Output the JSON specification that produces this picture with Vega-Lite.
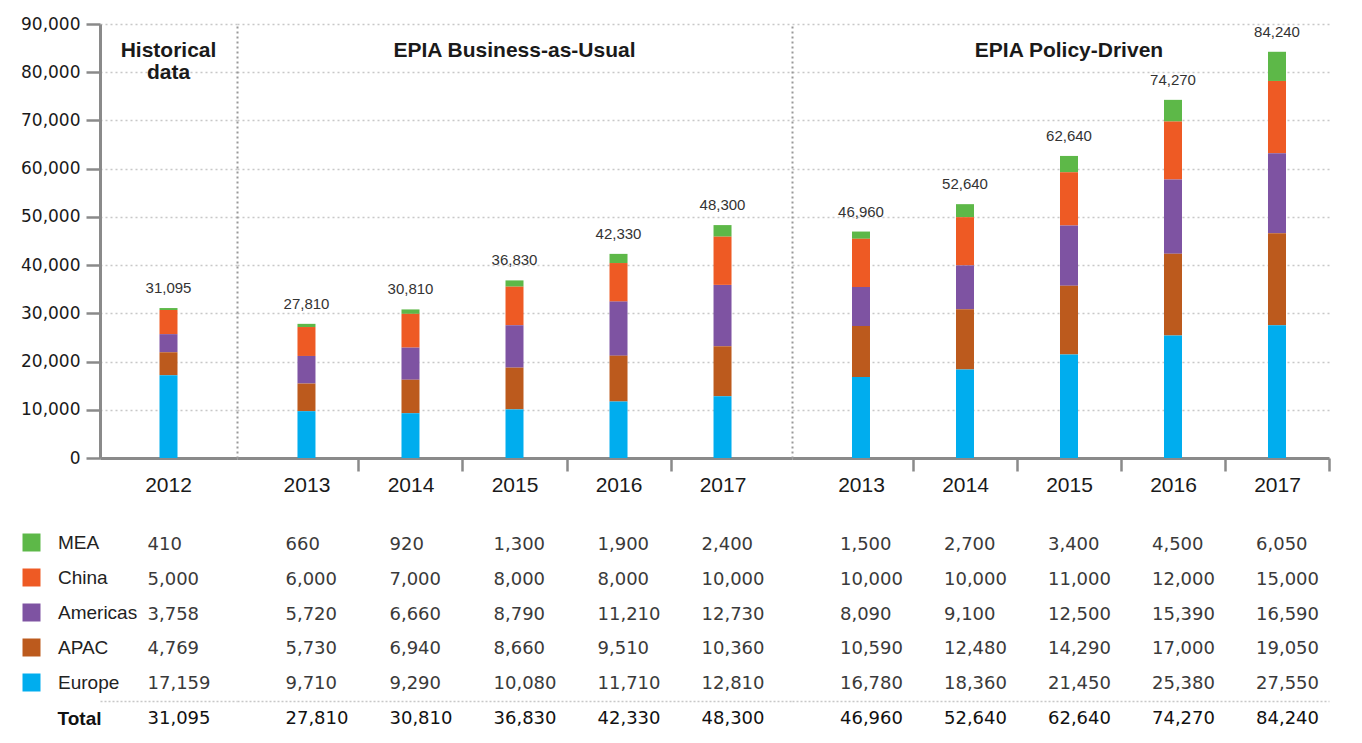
{
  "$schema": "https://vega.github.io/schema/vega-lite/v6.json",
  "padding": {"left": 20, "top": 15, "right": 5, "bottom": 5},
  "background": "white",
  "config": {"view": {"stroke": null}, "font": "Liberation Sans"},
  "datasets": {
    "d": [
      {"scenario": "H", "period": "2012", "series": "MEA", "value": 410},
      {"scenario": "H", "period": "2012", "series": "China", "value": 5000},
      {"scenario": "H", "period": "2012", "series": "Americas", "value": 3758},
      {"scenario": "H", "period": "2012", "series": "APAC", "value": 4769},
      {"scenario": "H", "period": "2012", "series": "Europe", "value": 17159},
      {"scenario": "H", "period": "2012", "series": "Total", "value": 31095},
      {"scenario": "B", "period": "BAU 2013", "series": "MEA", "value": 660},
      {"scenario": "B", "period": "BAU 2013", "series": "China", "value": 6000},
      {"scenario": "B", "period": "BAU 2013", "series": "Americas", "value": 5720},
      {"scenario": "B", "period": "BAU 2013", "series": "APAC", "value": 5730},
      {"scenario": "B", "period": "BAU 2013", "series": "Europe", "value": 9710},
      {"scenario": "B", "period": "BAU 2013", "series": "Total", "value": 27810},
      {"scenario": "B", "period": "BAU 2014", "series": "MEA", "value": 920},
      {"scenario": "B", "period": "BAU 2014", "series": "China", "value": 7000},
      {"scenario": "B", "period": "BAU 2014", "series": "Americas", "value": 6660},
      {"scenario": "B", "period": "BAU 2014", "series": "APAC", "value": 6940},
      {"scenario": "B", "period": "BAU 2014", "series": "Europe", "value": 9290},
      {"scenario": "B", "period": "BAU 2014", "series": "Total", "value": 30810},
      {"scenario": "B", "period": "BAU 2015", "series": "MEA", "value": 1300},
      {"scenario": "B", "period": "BAU 2015", "series": "China", "value": 8000},
      {"scenario": "B", "period": "BAU 2015", "series": "Americas", "value": 8790},
      {"scenario": "B", "period": "BAU 2015", "series": "APAC", "value": 8660},
      {"scenario": "B", "period": "BAU 2015", "series": "Europe", "value": 10080},
      {"scenario": "B", "period": "BAU 2015", "series": "Total", "value": 36830},
      {"scenario": "B", "period": "BAU 2016", "series": "MEA", "value": 1900},
      {"scenario": "B", "period": "BAU 2016", "series": "China", "value": 8000},
      {"scenario": "B", "period": "BAU 2016", "series": "Americas", "value": 11210},
      {"scenario": "B", "period": "BAU 2016", "series": "APAC", "value": 9510},
      {"scenario": "B", "period": "BAU 2016", "series": "Europe", "value": 11710},
      {"scenario": "B", "period": "BAU 2016", "series": "Total", "value": 42330},
      {"scenario": "B", "period": "BAU 2017", "series": "MEA", "value": 2400},
      {"scenario": "B", "period": "BAU 2017", "series": "China", "value": 10000},
      {"scenario": "B", "period": "BAU 2017", "series": "Americas", "value": 12730},
      {"scenario": "B", "period": "BAU 2017", "series": "APAC", "value": 10360},
      {"scenario": "B", "period": "BAU 2017", "series": "Europe", "value": 12810},
      {"scenario": "B", "period": "BAU 2017", "series": "Total", "value": 48300},
      {"scenario": "P", "period": "PD 2013", "series": "MEA", "value": 1500},
      {"scenario": "P", "period": "PD 2013", "series": "China", "value": 10000},
      {"scenario": "P", "period": "PD 2013", "series": "Americas", "value": 8090},
      {"scenario": "P", "period": "PD 2013", "series": "APAC", "value": 10590},
      {"scenario": "P", "period": "PD 2013", "series": "Europe", "value": 16780},
      {"scenario": "P", "period": "PD 2013", "series": "Total", "value": 46960},
      {"scenario": "P", "period": "PD 2014", "series": "MEA", "value": 2700},
      {"scenario": "P", "period": "PD 2014", "series": "China", "value": 10000},
      {"scenario": "P", "period": "PD 2014", "series": "Americas", "value": 9100},
      {"scenario": "P", "period": "PD 2014", "series": "APAC", "value": 12480},
      {"scenario": "P", "period": "PD 2014", "series": "Europe", "value": 18360},
      {"scenario": "P", "period": "PD 2014", "series": "Total", "value": 52640},
      {"scenario": "P", "period": "PD 2015", "series": "MEA", "value": 3400},
      {"scenario": "P", "period": "PD 2015", "series": "China", "value": 11000},
      {"scenario": "P", "period": "PD 2015", "series": "Americas", "value": 12500},
      {"scenario": "P", "period": "PD 2015", "series": "APAC", "value": 14290},
      {"scenario": "P", "period": "PD 2015", "series": "Europe", "value": 21450},
      {"scenario": "P", "period": "PD 2015", "series": "Total", "value": 62640},
      {"scenario": "P", "period": "PD 2016", "series": "MEA", "value": 4500},
      {"scenario": "P", "period": "PD 2016", "series": "China", "value": 12000},
      {"scenario": "P", "period": "PD 2016", "series": "Americas", "value": 15390},
      {"scenario": "P", "period": "PD 2016", "series": "APAC", "value": 17000},
      {"scenario": "P", "period": "PD 2016", "series": "Europe", "value": 25380},
      {"scenario": "P", "period": "PD 2016", "series": "Total", "value": 74270},
      {"scenario": "P", "period": "PD 2017", "series": "MEA", "value": 6050},
      {"scenario": "P", "period": "PD 2017", "series": "China", "value": 15000},
      {"scenario": "P", "period": "PD 2017", "series": "Americas", "value": 16590},
      {"scenario": "P", "period": "PD 2017", "series": "APAC", "value": 19050},
      {"scenario": "P", "period": "PD 2017", "series": "Europe", "value": 27550},
      {"scenario": "P", "period": "PD 2017", "series": "Total", "value": 84240}
    ],
    "titles": [
      {"scenario": "H", "period": "2012", "title": "Historical\ndata"},
      {"scenario": "B", "period": "BAU 2015", "title": "EPIA Business-as-Usual"},
      {"scenario": "P", "period": "PD 2015", "title": "EPIA Policy-Driven"}
    ]
  },
  "columns": 3,
  "align": "each",
  "spacing": {"row": 24, "column": 0},
  "resolve": {"scale": {"x": "independent", "y": "independent", "color": "shared"}},
  "concat": [
    {
      "width": 137, "height": 434,
      "layer": [
        {
          "data": {"name": "d"},
          "transform": [{"filter": "datum.scenario == 'H' && datum.series != 'Total'"}, {"calculate": "indexof(['Europe','APAC','Americas','China','MEA'], datum.series)", "as": "stackOrder"}],
          "mark": {"type": "bar", "size": 18},
          "encoding": {
            "x": {"field": "period", "type": "nominal", "scale": {"type": "band", "domain": ["2012"], "paddingInner": 0, "paddingOuter": 0.159},
              "axis": {"title": null, "labelExpr": "slice(datum.label, -4)", "labelAngle": 0, "labelFont": "Liberation Sans", "labelFontSize": 21, "labelColor": "#1a1a1a", "labelPadding": 16, "ticks": false, "domainColor": "#8a8a8a", "domainWidth": 3}},
            "y": {"field": "value", "type": "quantitative", "stack": "zero", "scale": {"domain": [0, 90000]},
              "axis": {"title": null, "labelExpr": "format(datum.value, ',')", "tickCount": 9, "labelFont": "DejaVu Sans", "labelFontSize": 17, "labelColor": "#1a1a1a", "labelPadding": 6, "tickSize": 14, "tickWidth": 2.5, "tickColor": "#8a8a8a", "domainColor": "#8a8a8a", "domainWidth": 3, "grid": true, "gridColor": "#c8c8c8", "gridDash": [2, 3], "gridWidth": 1.5}},
            "color": {"field": "series", "type": "nominal", "scale": {"domain": ["MEA", "China", "Americas", "APAC", "Europe"], "range": ["#5DB848", "#EE5A24", "#7E53A2", "#BC5A1D", "#00ADEE"]},
              "legend": {"title": null, "orient": "none", "legendX": -78, "legendY": 509, "symbolType": "square", "symbolSize": 324, "symbolStrokeWidth": 0, "labelFont": "Liberation Sans", "labelFontSize": 19, "labelColor": "#222", "labelOffset": 17, "rowPadding": 15, "labelLimit": 200}},
            "order": {"field": "stackOrder", "type": "quantitative"}
          }
        },
        {
          "data": {"name": "d"},
          "transform": [{"filter": "datum.scenario == 'H' && datum.series == 'Total'"}],
          "mark": {"type": "text", "baseline": "alphabetic", "dy": -15, "fontSize": 15, "color": "#333"},
          "encoding": {"x": {"field": "period", "type": "nominal"}, "y": {"field": "value", "type": "quantitative"}, "text": {"field": "value", "type": "quantitative", "format": ","}}
        },
        {
          "data": {"name": "titles"},
          "transform": [{"filter": "datum.scenario == 'H'"}],
          "mark": {"type": "text", "baseline": "alphabetic", "fontSize": 21, "fontWeight": "bold", "color": "#1a1a1a", "lineHeight": 22, "lineBreak": "\n"},
          "encoding": {"x": {"field": "period", "type": "nominal"}, "y": {"datum": 83200, "type": "quantitative"}, "text": {"field": "title"}}
        }
      ]
    },
    {
      "width": 555, "height": 434,
      "layer": [
        {
          "data": {"name": "d"},
          "transform": [{"filter": "datum.scenario == 'B' && datum.series != 'Total'"}, {"calculate": "indexof(['Europe','APAC','Americas','China','MEA'], datum.series)", "as": "stackOrder"}],
          "mark": {"type": "bar", "size": 18},
          "encoding": {
            "x": {"field": "period", "type": "nominal", "scale": {"type": "band", "domain": ["BAU 2013", "BAU 2014", "BAU 2015", "BAU 2016", "BAU 2017"], "paddingInner": 0, "paddingOuter": 0.168},
              "axis": {"title": null, "labelExpr": "slice(datum.label, -4)", "labelAngle": 0, "labelFont": "Liberation Sans", "labelFontSize": 21, "labelColor": "#1a1a1a", "labelPadding": 3, "tickBand": "extent", "tickSize": 13, "tickWidth": 2.5, "tickColor": "#8a8a8a", "tickOpacity": {"condition": {"test": "datum.index < 0 || datum.value == 'BAU 2017'", "value": 0}, "value": 1}, "domainColor": "#8a8a8a", "domainWidth": 3}},
            "y": {"field": "value", "type": "quantitative", "stack": "zero", "scale": {"domain": [0, 90000]},
              "axis": {"title": null, "tickCount": 9, "labels": false, "ticks": false, "domainColor": "#999999", "domainDash": [2, 3], "domainWidth": 2, "grid": true, "gridColor": "#c8c8c8", "gridDash": [2, 3], "gridWidth": 1.5}},
            "color": {"field": "series", "type": "nominal", "scale": {"domain": ["MEA", "China", "Americas", "APAC", "Europe"], "range": ["#5DB848", "#EE5A24", "#7E53A2", "#BC5A1D", "#00ADEE"]},
              "legend": {"title": null, "orient": "none", "legendX": -78, "legendY": 509, "symbolType": "square", "symbolSize": 324, "symbolStrokeWidth": 0, "labelFont": "Liberation Sans", "labelFontSize": 19, "labelColor": "#222", "labelOffset": 17, "rowPadding": 15, "labelLimit": 200}},
            "order": {"field": "stackOrder", "type": "quantitative"}
          }
        },
        {
          "data": {"name": "d"},
          "transform": [{"filter": "datum.scenario == 'B' && datum.series == 'Total'"}],
          "mark": {"type": "text", "baseline": "alphabetic", "dy": -15, "fontSize": 15, "color": "#333"},
          "encoding": {"x": {"field": "period", "type": "nominal"}, "y": {"field": "value", "type": "quantitative"}, "text": {"field": "value", "type": "quantitative", "format": ","}}
        },
        {
          "data": {"name": "titles"},
          "transform": [{"filter": "datum.scenario == 'B'"}],
          "mark": {"type": "text", "baseline": "alphabetic", "fontSize": 21, "fontWeight": "bold", "color": "#1a1a1a", "lineHeight": 22, "lineBreak": "\n"},
          "encoding": {"x": {"field": "period", "type": "nominal"}, "y": {"datum": 83200, "type": "quantitative"}, "text": {"field": "title"}}
        }
      ]
    },
    {
      "width": 537, "height": 434,
      "layer": [
        {
          "data": {"name": "d"},
          "transform": [{"filter": "datum.scenario == 'P' && datum.series != 'Total'"}, {"calculate": "indexof(['Europe','APAC','Americas','China','MEA'], datum.series)", "as": "stackOrder"}],
          "mark": {"type": "bar", "size": 18},
          "encoding": {
            "x": {"field": "period", "type": "nominal", "scale": {"type": "band", "domain": ["PD 2013", "PD 2014", "PD 2015", "PD 2016", "PD 2017"], "paddingInner": 0, "paddingOuter": 0.0817, "align": 1},
              "axis": {"title": null, "labelExpr": "slice(datum.label, -4)", "labelAngle": 0, "labelFont": "Liberation Sans", "labelFontSize": 21, "labelColor": "#1a1a1a", "labelPadding": 3, "tickBand": "extent", "tickSize": 13, "tickWidth": 2.5, "tickColor": "#8a8a8a", "tickOpacity": {"condition": {"test": "datum.index < 0", "value": 0}, "value": 1}, "domainColor": "#8a8a8a", "domainWidth": 3}},
            "y": {"field": "value", "type": "quantitative", "stack": "zero", "scale": {"domain": [0, 90000]},
              "axis": {"title": null, "tickCount": 9, "labels": false, "ticks": false, "domainColor": "#999999", "domainDash": [2, 3], "domainWidth": 2, "grid": true, "gridColor": "#c8c8c8", "gridDash": [2, 3], "gridWidth": 1.5}},
            "color": {"field": "series", "type": "nominal", "scale": {"domain": ["MEA", "China", "Americas", "APAC", "Europe"], "range": ["#5DB848", "#EE5A24", "#7E53A2", "#BC5A1D", "#00ADEE"]},
              "legend": {"title": null, "orient": "none", "legendX": -78, "legendY": 509, "symbolType": "square", "symbolSize": 324, "symbolStrokeWidth": 0, "labelFont": "Liberation Sans", "labelFontSize": 19, "labelColor": "#222", "labelOffset": 17, "rowPadding": 15, "labelLimit": 200}},
            "order": {"field": "stackOrder", "type": "quantitative"}
          }
        },
        {
          "data": {"name": "d"},
          "transform": [{"filter": "datum.scenario == 'P' && datum.series == 'Total'"}],
          "mark": {"type": "text", "baseline": "alphabetic", "dy": -15, "fontSize": 15, "color": "#333"},
          "encoding": {"x": {"field": "period", "type": "nominal"}, "y": {"field": "value", "type": "quantitative"}, "text": {"field": "value", "type": "quantitative", "format": ","}}
        },
        {
          "data": {"name": "titles"},
          "transform": [{"filter": "datum.scenario == 'P'"}],
          "mark": {"type": "text", "baseline": "alphabetic", "fontSize": 21, "fontWeight": "bold", "color": "#1a1a1a", "lineHeight": 22, "lineBreak": "\n"},
          "encoding": {"x": {"field": "period", "type": "nominal"}, "y": {"datum": 83200, "type": "quantitative"}, "text": {"field": "title"}}
        }
      ]
    },
    {
      "width": 137, "height": 208,
      "data": {"name": "d"},
      "transform": [{"filter": "datum.scenario == 'H'"}],
      "mark": {"type": "text", "align": "left", "dx": -21, "font": "DejaVu Sans", "fontSize": 18},
      "encoding": {
        "x": {"field": "period", "type": "nominal", "scale": {"type": "band", "domain": ["2012"], "paddingInner": 0, "paddingOuter": 0.159}, "axis": null},
        "y": {"field": "series", "type": "nominal", "scale": {"type": "band", "domain": ["MEA", "China", "Americas", "APAC", "Europe", "Total"]},
          "axis": {"title": null, "labelExpr": "datum.value == 'Total' ? 'Total' : ''", "labelAlign": "left", "labelPadding": 43, "labelFont": "Liberation Sans", "labelFontSize": 19, "labelFontWeight": "bold", "labelColor": "#111", "ticks": false, "domain": false, "grid": true, "tickBand": "extent", "gridColor": "#c8c8c8", "gridDash": [2, 2], "gridWidth": 1.5, "gridOpacity": {"condition": {"test": "datum.value == 'Europe'", "value": 1}, "value": 0}}},
        "text": {"field": "value", "type": "quantitative", "format": ","},
        "color": {"condition": {"test": "datum.series == 'Total'", "value": "#111"}, "value": "#3a3a3a"}
      }
    },
    {
      "width": 555, "height": 208,
      "data": {"name": "d"},
      "transform": [{"filter": "datum.scenario == 'B'"}],
      "mark": {"type": "text", "align": "left", "dx": -21, "font": "DejaVu Sans", "fontSize": 18},
      "encoding": {
        "x": {"field": "period", "type": "nominal", "scale": {"type": "band", "domain": ["BAU 2013", "BAU 2014", "BAU 2015", "BAU 2016", "BAU 2017"], "paddingInner": 0, "paddingOuter": 0.168}, "axis": null},
        "y": {"field": "series", "type": "nominal", "scale": {"type": "band", "domain": ["MEA", "China", "Americas", "APAC", "Europe", "Total"]},
          "axis": {"title": null, "labels": false, "ticks": false, "domain": false, "grid": true, "tickBand": "extent", "gridColor": "#c8c8c8", "gridDash": [2, 2], "gridWidth": 1.5, "gridOpacity": {"condition": {"test": "datum.value == 'Europe'", "value": 1}, "value": 0}}},
        "text": {"field": "value", "type": "quantitative", "format": ","},
        "color": {"condition": {"test": "datum.series == 'Total'", "value": "#111"}, "value": "#3a3a3a"}
      }
    },
    {
      "width": 537, "height": 208,
      "data": {"name": "d"},
      "transform": [{"filter": "datum.scenario == 'P'"}],
      "mark": {"type": "text", "align": "left", "dx": -21, "font": "DejaVu Sans", "fontSize": 18},
      "encoding": {
        "x": {"field": "period", "type": "nominal", "scale": {"type": "band", "domain": ["PD 2013", "PD 2014", "PD 2015", "PD 2016", "PD 2017"], "paddingInner": 0, "paddingOuter": 0.0817, "align": 1}, "axis": null},
        "y": {"field": "series", "type": "nominal", "scale": {"type": "band", "domain": ["MEA", "China", "Americas", "APAC", "Europe", "Total"]},
          "axis": {"title": null, "labels": false, "ticks": false, "domain": false, "grid": true, "tickBand": "extent", "gridColor": "#c8c8c8", "gridDash": [2, 2], "gridWidth": 1.5, "gridOpacity": {"condition": {"test": "datum.value == 'Europe'", "value": 1}, "value": 0}}},
        "text": {"field": "value", "type": "quantitative", "format": ","},
        "color": {"condition": {"test": "datum.series == 'Total'", "value": "#111"}, "value": "#3a3a3a"}
      }
    }
  ]
}
